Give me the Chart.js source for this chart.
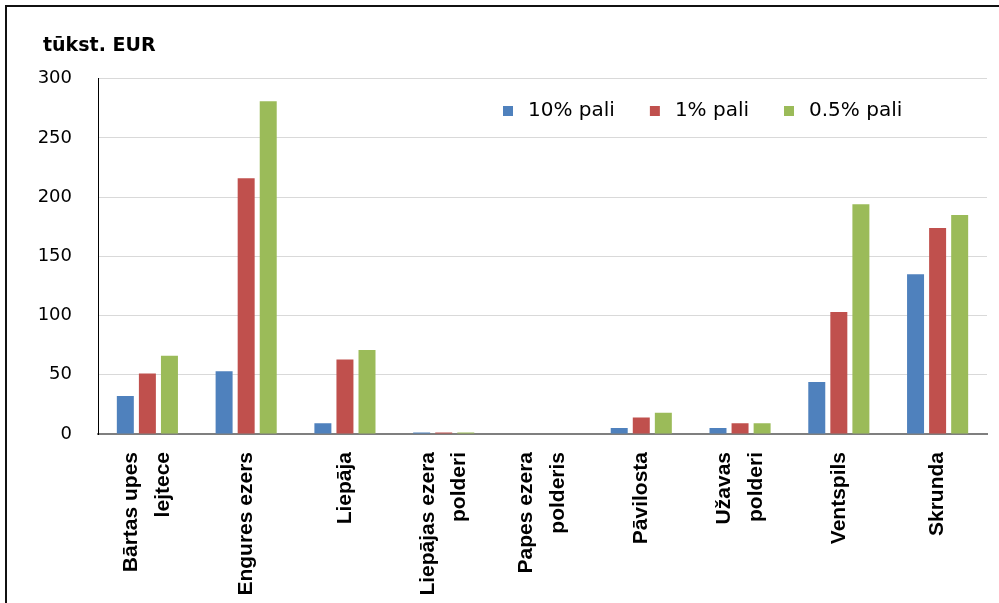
<!DOCTYPE html>
<html>
<head>
<meta charset="utf-8">
<script src="https://cdn.jsdelivr.net/npm/chart.js@4.4.1/dist/chart.umd.min.js"></script>
<style>
  html, body { margin: 0; padding: 0; background: #fff; overflow: hidden; }
  #wrap { position: relative; width: 999px; height: 603px; }
  #frame { position: absolute; left: 5px; top: 5px; width: 1000px; height: 700px;
           border-left: 2px solid #111; border-top: 2px solid #111; }
  canvas { position: absolute; left: 0; top: 0; }
</style>
</head>
<body>
<div id="wrap">
  <div id="frame"></div>
  <canvas id="chart" width="999" height="603"></canvas>
</div>
<script>
// data (thousand EUR)
const categories = [
  ['Bārtas upes', 'lejtece'],
  'Engures ezers',
  'Liepāja',
  ['Liepājas ezera', 'polderi'],
  ['Papes ezera', 'polderis'],
  'Pāvilosta',
  ['Užavas', 'polderi'],
  'Ventspils',
  'Skrunda'
];
const seriesNames = ['10% pali', '1% pali', '0.5% pali'];
const pali10 = [32, 53, 9, 1.2, 0, 5, 5, 44, 135];
const pali1 = [51, 216, 63, 1.2, 0, 14, 9, 103, 174];
const pali05 = [66, 281, 71, 1.2, 0, 18, 9, 194, 185];
const yTicks = [0, 50, 100, 150, 200, 250, 300];

const seriesColors = ['#4f81bd', '#c0504d', '#9bbb59'];
const xFontSize = 21;
const xLineHeight = 1.52;

// legend sits inside the plot area, in one row
const tweakPlugin = {
  id: 'tweak',
  afterInit(chart) {
    chart.legend.isHorizontal = () => true;
  },
  beforeDraw(chart) {
    const lg = chart.legend;
    lg.left = 468;
    lg.top = 71;
    lg.right = 995;
    lg.bottom = 150;
    chart.titleBlock.left = 43;
    // two-line x labels: centre both lines on the category
    const lh = xFontSize * xLineHeight;
    chart.scales.x.getLabelItems().forEach(item => {
      if (Array.isArray(item.label) && item.label.length > 1 && !item.moved) {
        item.options.translation[0] -= lh * (item.label.length - 1) / 2;
        item.moved = true;
      }
    });
  }
};

const chartData = {
  labels: categories,
  datasets: [pali10, pali1, pali05].map((vals, i) => ({
    label: seriesNames[i],
    data: vals,
    backgroundColor: seriesColors[i],
    borderWidth: 0,
    categoryPercentage: 0.67,
    barPercentage: 0.77
  }))
};

new Chart(document.getElementById('chart'), {
  type: 'bar',
  data: chartData,
  plugins: [tweakPlugin],
  options: {
    responsive: false,
    animation: false,
    layout: { padding: { left: 20, right: 12, top: 0, bottom: 0 } },
    plugins: {
      title: {
        display: true,
        text: 'tūkst. EUR',
        align: 'start',
        color: '#000',
        font: { family: 'DejaVu Sans', size: 19, weight: 'bold' },
        padding: { top: 35, bottom: 21 }
      },
      legend: {
        position: 'chartArea',
        align: 'start',
        labels: {
          usePointStyle: true,
          pointStyle: 'rect',
          boxWidth: 20,
          boxHeight: 10,
          padding: 30,
          color: '#000',
          font: { family: 'DejaVu Sans', size: 20 }
        }
      },
      tooltip: { enabled: false }
    },
    scales: {
      x: {
        grid: { display: false },
        border: { display: true, color: '#7f7f7f', width: 2 },
        ticks: {
          autoSkip: false,
          maxRotation: 90,
          minRotation: 90,
          padding: 10,
          color: '#000',
          font: { family: 'Liberation Sans', size: xFontSize, weight: 'bold', lineHeight: xLineHeight }
        },
        afterFit(scale) { scale.height = 169; }
      },
      y: {
        min: 0,
        max: 300,
        afterBuildTicks(scale) { scale.ticks = yTicks.map(v => ({ value: v })); },
        grid: { color: '#d9d9d9', lineWidth: 1, drawTicks: false },
        border: { display: true, color: '#000', width: 1 },
        ticks: {
          padding: 26,
          color: '#000',
          font: { family: 'DejaVu Sans', size: 18 }
        },
        afterFit(scale) { scale.width = 78; }
      }
    }
  }
});
</script>
</body>
</html>
